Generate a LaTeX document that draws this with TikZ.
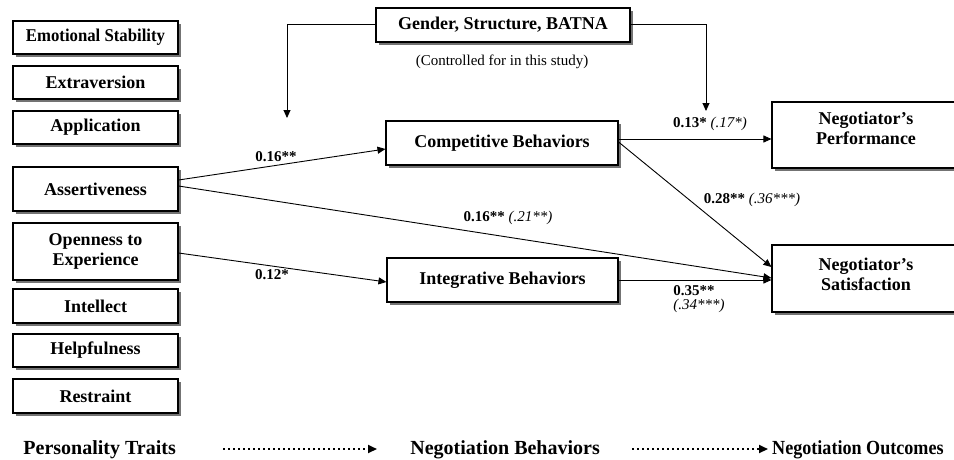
\documentclass[tikz,border=0pt]{standalone}
\usepackage{graphicx}
\usepackage{fontspec}
\setmainfont{Liberation Serif}
\usetikzlibrary{arrows.meta,shadows}
\begin{document}
\begin{tikzpicture}[x=1pt,y=-1pt,
  bx/.style={draw, line width=1.1pt, fill=white, inner sep=0pt, align=center,
    drop shadow={shadow xshift=2.5pt, shadow yshift=-2.5pt, fill=black!55, opacity=1},
    font=\fontsize{18}{20}\selectfont\bfseries},
  lbl/.style={font=\fontsize{15}{16}\selectfont, inner sep=0pt},
  conn/.style={line width=0.9pt, -{Triangle[length=8pt,width=7pt]}},
  dotarrow/.style={line width=2pt, dash pattern=on 2pt off 3pt, -{Triangle[length=9pt,width=8pt]}},
  bottomlbl/.style={font=\fontsize{20}{22}\selectfont\bfseries, inner sep=0pt},
  boxtext/.style={font=\fontsize{18}{20}\selectfont\bfseries, inner sep=0pt, align=center}
]
\useasboundingbox (0,0) rectangle (954,459);

% left column
\node[bx, minimum width=165pt, minimum height=33pt] (emo) at (95.5,37.5) {\scalebox{0.93}[1]{Emotional Stability}};
\node[bx, minimum width=165pt, minimum height=33pt] (extra) at (95.5,82.5) {Extraversion};
\node[bx, minimum width=165pt, minimum height=33pt] (appl) at (95.5,127.5) {Application};
\node[bx, minimum width=165pt, minimum height=44pt] (assert) at (95.5,189) {Assertiveness};
\node[bx, minimum width=165pt, minimum height=57pt] (open) at (95.5,251.5) {Openness to\\Experience};
\node[bx, minimum width=165pt, minimum height=34pt] (intel) at (95.5,306) {Intellect};
\node[bx, minimum width=165pt, minimum height=33pt] (help) at (95.5,350.5) {Helpfulness};
\node[bx, minimum width=165pt, minimum height=34pt] (restr) at (95.5,396) {Restraint};

% controls
\node[bx, minimum width=254pt, minimum height=34pt] (gender) at (503,25) {Gender, Structure, BATNA};
\node[lbl] (ctrl) at (502,61.5) {(Controlled for in this study)};

% behaviors
\node[bx, minimum width=232pt, minimum height=44pt] (comp) at (502,143) {Competitive Behaviors};
\node[bx, minimum width=231pt, minimum height=44pt] (integ) at (502.5,280) {Integrative Behaviors};

% outcomes
\node[bx, minimum width=188pt, minimum height=66pt] (perf) at (866,135) {};
\node[boxtext] (perft) at (866,128) {Negotiator’s\\Performance};
\node[bx, minimum width=188pt, minimum height=67pt] (sat) at (866,278.5) {};
\node[boxtext] (satt) at (866,274) {Negotiator’s\\Satisfaction};

% control arrows
\coordinate (ctrlL) at (287,118);
\coordinate (ctrlR) at (706,111);
\draw[conn] ([yshift=1pt]gender.west) -| (ctrlL);
\draw[conn] ([yshift=1pt]gender.east) -| (ctrlR);

% paths
\draw[conn] ([yshift=9pt]assert.east) -- ([yshift=-6pt]comp.west);
\draw[conn] ([yshift=3pt]assert.east) -- ([yshift=0.5pt]sat.west);
\draw[conn] ([yshift=-1.5pt]open.east) -- ([yshift=-2pt]integ.west);
\draw[conn] ([yshift=4pt]comp.east) -- ([yshift=-4pt]perf.west);
\draw[conn] ([yshift=1pt]comp.east) -- ([yshift=11.5pt]sat.west);
\draw[conn] (integ.east) -- ([yshift=-1.5pt]sat.west);

% labels
\node[lbl] (l1) at (276,157) {\bfseries 0.16**};
\node[lbl] (l2) at (508,218) {{\bfseries 0.16**} \textit{(.21**)}};
\node[lbl] (l3) at (272,275) {\bfseries 0.12*};
\node[lbl] (l4) at (710,124) {{\bfseries 0.13*} \textit{(.17*)}};
\node[lbl] (l5) at (752,200) {{\bfseries 0.28**} \textit{(.36***)}};
\node[lbl] (l6) at (694,291) {\bfseries 0.35**};
\node[lbl] (l7) at (699,306) {\textit{(.34***)}};

% bottom row
\node[bottomlbl, anchor=base east] (pt) at (176,454) {Personality Traits};
\node[bottomlbl, anchor=base east] (nb) at (600,454) {Negotiation Behaviors};
\node[bottomlbl, anchor=base west] (no) at (772,454) {\scalebox{0.905}[1]{Negotiation Outcomes}};
\coordinate (d1s) at (223,449);
\coordinate (d1e) at (377,449);
\coordinate (d2s) at (632,449);
\coordinate (d2e) at (768,449);
\draw[dotarrow] (d1s) -- (d1e);
\draw[dotarrow] (d2s) -- (d2e);
\end{tikzpicture}
\end{document}
